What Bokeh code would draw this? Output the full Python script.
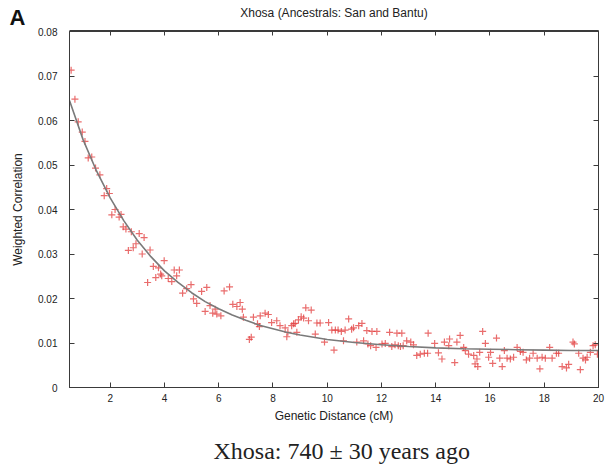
from bokeh.plotting import figure
from bokeh.models import LinearAxis, FixedTicker, Range1d, Title
from bokeh.embed import file_html
from bokeh.resources import INLINE

# ---- data ----
dist_cm = [0.56, 0.70, 0.82, 0.97, 1.07, 1.19, 1.32, 1.46, 1.62, 1.78, 1.87, 1.97,
           2.06, 2.18, 2.33, 2.40, 2.48, 2.58, 2.67, 2.78, 2.85, 2.95, 3.07, 3.18,
           3.25, 3.38, 3.47, 3.59, 3.68, 3.78, 3.86, 3.90, 3.99, 4.14, 4.27, 4.36,
           4.45, 4.55, 4.67, 4.82, 4.98, 5.07, 5.19, 5.37, 5.50, 5.56, 5.68, 5.78,
           5.87, 5.93, 6.08, 6.20, 6.40, 6.52, 6.67, 6.79, 6.87, 6.91, 7.13, 7.20,
           7.28, 7.43, 7.50, 7.53, 7.71, 7.83, 7.95, 8.14, 8.26, 8.45, 8.51, 8.55,
           8.69, 8.76, 8.82, 8.88, 8.94, 9.04, 9.13, 9.21, 9.31, 9.41, 9.56, 9.62,
           9.74, 9.90, 10.05, 10.17, 10.25, 10.30, 10.40, 10.52, 10.60, 10.66, 10.79,
           10.90, 10.97, 11.09, 11.16, 11.28, 11.34, 11.46, 11.50, 11.60, 11.65,
           11.80, 11.83, 12.02, 12.14, 12.30, 12.38, 12.50, 12.57, 12.62, 12.70,
           12.75, 12.80, 12.93, 13.08, 13.18, 13.30, 13.43, 13.58, 13.70, 13.72,
           13.96, 14.10, 14.23, 14.32, 14.48, 14.51, 14.70, 14.78, 14.90, 15.03,
           15.09, 15.21, 15.40, 15.45, 15.52, 15.55, 15.62, 15.73, 15.83, 15.95,
           16.02, 16.10, 16.24, 16.36, 16.45, 16.53, 16.63, 16.75, 16.87, 17.00,
           17.12, 17.22, 17.34, 17.46, 17.59, 17.74, 17.84, 17.92, 18.04, 18.20,
           18.29, 18.45, 18.53, 18.66, 18.82, 18.90, 19.06, 19.11, 19.27, 19.33,
           19.43, 19.52, 19.58, 19.70, 19.80, 19.88, 19.96]
weighted_corr = [0.0713, 0.0648, 0.0597, 0.0574, 0.0553, 0.0516, 0.0518, 0.0493, 0.0478, 0.0431, 0.0447, 0.0436,
                 0.0388, 0.0400, 0.0383, 0.0389, 0.0361, 0.0356, 0.0308, 0.0350, 0.0314, 0.0323, 0.0346, 0.0300,
                 0.0337, 0.0236, 0.0309, 0.0272, 0.0247, 0.0269, 0.0255, 0.0251, 0.0285, 0.0245, 0.0238, 0.0264,
                 0.0251, 0.0264, 0.0212, 0.0222, 0.0231, 0.0199, 0.0189, 0.0216, 0.0171, 0.0225, 0.0184, 0.0167,
                 0.0176, 0.0165, 0.0161, 0.0217, 0.0226, 0.0187, 0.0182, 0.0191, 0.0176, 0.0158, 0.0108, 0.0113,
                 0.0158, 0.0143, 0.0137, 0.0161, 0.0167, 0.0164, 0.0146, 0.0150, 0.0139, 0.0134, 0.0114, 0.0124,
                 0.0139, 0.0143, 0.0144, 0.0124, 0.0152, 0.0159, 0.0156, 0.0179, 0.0150, 0.0174, 0.0120, 0.0145,
                 0.0145, 0.0102, 0.0146, 0.0129, 0.0084, 0.0129, 0.0129, 0.0126, 0.0105, 0.0129, 0.0154,
                 0.0131, 0.0134, 0.0102, 0.0139, 0.0144, 0.0105, 0.0128, 0.0098, 0.0094, 0.0126,
                 0.0090, 0.0126, 0.0098, 0.0099, 0.0124, 0.0092, 0.0096, 0.0122, 0.0094, 0.0092,
                 0.0122, 0.0094, 0.0105, 0.0102, 0.0096, 0.0072, 0.0075, 0.0077, 0.0077, 0.0122,
                 0.0099, 0.0078, 0.0064, 0.0102, 0.0094, 0.0109, 0.0056, 0.0102, 0.0117, 0.0090,
                 0.0083, 0.0075, 0.0072, 0.0053, 0.0064, 0.0047, 0.0079, 0.0126, 0.0099, 0.0068,
                 0.0079, 0.0054, 0.0111, 0.0066, 0.0047, 0.0083, 0.0066, 0.0064, 0.0068, 0.0090,
                 0.0081, 0.0079, 0.0062, 0.0066, 0.0077, 0.0066, 0.0042, 0.0068, 0.0066, 0.0090,
                 0.0066, 0.0077, 0.0077, 0.0047, 0.0044, 0.0052, 0.0102, 0.0098, 0.0077, 0.0040,
                 0.0066, 0.0062, 0.0068, 0.0079, 0.0094, 0.0096, 0.0075]

fit_x = [0.5, 1.0, 1.5, 2.0, 2.5, 3.0, 3.5, 4.0, 4.5, 5.0, 5.5, 6.0, 6.5, 7.0, 7.5, 8.0,
         8.5, 9.0, 9.5, 10, 11, 12, 13, 14, 15, 16, 17, 18, 19, 20]
fit_y = [0.0645, 0.0557, 0.0486, 0.0426, 0.0375, 0.0331, 0.0294, 0.0262, 0.0236, 0.0213,
         0.0193, 0.0177, 0.0163, 0.0151, 0.0140, 0.0132, 0.0124, 0.0118, 0.0113, 0.0108,
         0.0101, 0.0096, 0.0092, 0.0089, 0.0087, 0.0086, 0.0085, 0.0084, 0.0083, 0.0083]

x_ticks = [2, 4, 6, 8, 10, 12, 14, 16, 18, 20]
y_ticks = [0, 0.01, 0.02, 0.03, 0.04, 0.05, 0.06, 0.07, 0.08]
y_tick_labels = ["0", "0.01", "0.02", "0.03", "0.04", "0.05", "0.06", "0.07", "0.08"]

title_text = "Xhosa (Ancestrals: San and Bantu)"
caption_text = "Xhosa: 740 \u00b1 30 years ago"
panel_letter = "A"
x_label = "Genetic Distance (cM)"
y_label = "Weighted Correlation"

FONT = "Liberation Sans"
AXC = "#3a3a3a"

p = figure(width=609, height=466, output_backend="svg", toolbar_location=None,
           x_range=Range1d(0.5, 20), y_range=Range1d(0, 0.08),
           min_border_left=69, min_border_right=11, min_border_top=31, min_border_bottom=79)
p.xaxis.visible = False
p.yaxis.visible = False
p.grid.visible = False
p.outline_line_color = AXC
p.outline_line_width = 1
p.background_fill_color = "white"
p.border_fill_color = "white"


def style_axis(ax, ticks, labels=None):
    ax.axis_line_color = AXC
    ax.axis_line_width = 1
    ax.major_tick_line_color = AXC
    ax.major_tick_in = 5
    ax.major_tick_out = 0
    ax.minor_tick_line_color = None
    ax.major_label_text_font = FONT
    ax.major_label_text_font_size = "10px"
    ax.major_label_text_color = "#222222"
    ax.axis_label_text_font = FONT
    ax.axis_label_text_font_style = "normal"
    ax.axis_label_text_color = "#222222"
    ax.axis_label_text_font_size = "12px"
    if labels is not None:
        ax.major_label_overrides = dict(zip(ticks, labels))


# panel letter "A": (near) zero-height title hugging the frame top, pushed left of the frame.
# The trailing empty line lifts the letter above the frame while keeping the panel flat.
letter = Title(text=panel_letter + "\n", align="left", vertical_align="bottom", offset=-60,
               standoff=-56, text_font=FONT, text_font_size="22px", text_line_height=1.2,
               text_font_style="bold", text_color="#111111")
p.add_layout(letter, "above")

xb = LinearAxis(ticker=FixedTicker(ticks=x_ticks), axis_label=x_label)
style_axis(xb, x_ticks)
xb.major_label_standoff = 6
xb.axis_label_standoff = 4
p.add_layout(xb, "below")

yl = LinearAxis(ticker=FixedTicker(ticks=y_ticks), axis_label=y_label)
style_axis(yl, y_ticks, y_tick_labels)
yl.major_label_standoff = 12
yl.axis_label_standoff = 10
p.add_layout(yl, "left")

# top axis: mirrored ticks, carries the chart title as its label
xt = LinearAxis(ticker=FixedTicker(ticks=x_ticks), axis_label=title_text)
style_axis(xt, x_ticks, [""] * len(x_ticks))
xt.major_label_standoff = 0
xt.axis_label_standoff = 11
p.add_layout(xt, "above")

yr = LinearAxis(ticker=FixedTicker(ticks=y_ticks))
style_axis(yr, y_ticks, [""] * len(y_ticks))
yr.major_label_standoff = 0
p.add_layout(yr, "right")

p.scatter(dist_cm, weighted_corr, marker="cross", size=7, line_width=1.2,
          line_color="#e23b3b", line_alpha=0.75)
p.line(fit_x, fit_y, line_color="#7a7a7a", line_width=1.6)

# caption: leading empty line + top alignment to sit a little lower without a taller panel
p.add_layout(Title(text="\n" + caption_text, align="left", vertical_align="top", offset=144,
                   standoff=-27, text_font="Liberation Serif", text_font_size="24px",
                   text_line_height=1.0, text_font_style="normal", text_color="#222222"), "below")

open("out.html", "w").write(file_html(p, INLINE))
